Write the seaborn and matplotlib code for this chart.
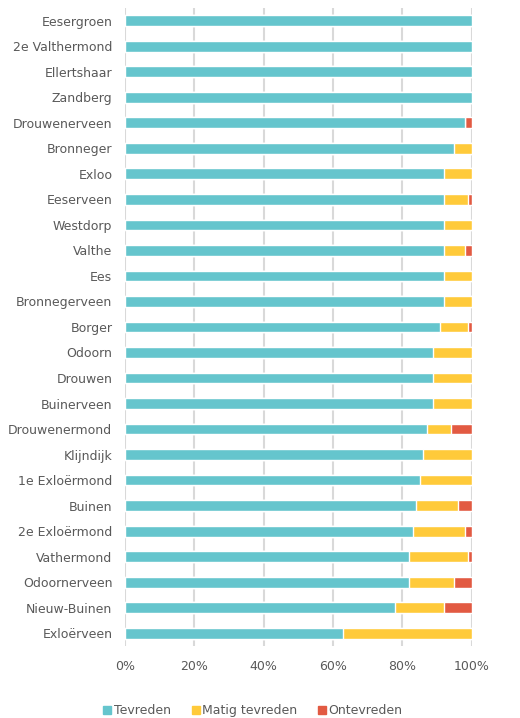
import numpy as np
import pandas as pd
import seaborn as sns
import matplotlib.pyplot as plt
from matplotlib.lines import Line2D
from matplotlib.ticker import FuncFormatter

# Data (percent per village)
villages = ['Eesergroen', '2e Valthermond', 'Ellertshaar', 'Zandberg', 'Drouwenerveen',
            'Bronneger', 'Exloo', 'Eeserveen', 'Westdorp', 'Valthe', 'Ees',
            'Bronnegerveen', 'Borger', 'Odoorn', 'Drouwen', 'Buinerveen',
            'Drouwenermond', 'Klijndijk', '1e Exloërmond', 'Buinen', '2e Exloërmond',
            'Vathermond', 'Odoornerveen', 'Nieuw-Buinen', 'Exloërveen']
tevreden = [100, 100, 100, 100, 98, 95, 92, 92, 92, 92, 92, 92, 91, 89, 89, 89,
            87, 86, 85, 84, 83, 82, 82, 78, 63]
matig = [0, 0, 0, 0, 0, 5, 8, 7, 8, 6, 8, 8, 8, 11, 11, 11,
         7, 14, 15, 12, 15, 17, 13, 14, 37]
ontevreden = [0, 0, 0, 0, 2, 0, 0, 1, 0, 2, 0, 0, 1, 0, 0, 0,
              6, 0, 0, 4, 2, 1, 5, 8, 0]

labels = ['Tevreden', 'Matig tevreden', 'Ontevreden']
colors = ['#65C5CD', '#FFCA3A', '#E25A42']

df = pd.DataFrame({'Dorp': villages, 'Tevreden': tevreden,
                   'Matig': matig, 'Ontevreden': ontevreden})
df['c1'] = df['Tevreden']
df['c2'] = df['Tevreden'] + df['Matig']
df['c3'] = df['c2'] + df['Ontevreden']

sns.set_style('white')
plt.rcParams['font.family'] = ['DejaVu Sans']

fig = plt.figure(figsize=(5.2, 7.18), dpi=100)
ax = fig.add_axes([0.24, 0.1003, 0.667, 0.8886])

# stacked bars drawn as overlapping cumulative layers
for col, c in zip(['c3', 'c2', 'c1'], colors[::-1]):
    sns.barplot(data=df, x=col, y='Dorp', orient='h', color=c,
                width=0.42, saturation=1, ax=ax, zorder=3)

ax.set_xlim(0, 100)
ax.set_ylim(len(villages) - 0.5, -0.5)
ax.set_xticks([0, 20, 40, 60, 80, 100])
ax.xaxis.set_major_formatter(FuncFormatter(lambda v, p: f'{v:.0f}%'))
ax.grid(axis='x', color='#D9D9D9', linewidth=1.5, zorder=0)
ax.set_axisbelow(True)
for s in ax.spines.values():
    s.set_visible(False)
ax.set_xlabel('')
ax.set_ylabel('')
ax.tick_params(axis='both', length=0, labelsize=9, labelcolor='#595959')
ax.tick_params(axis='x', pad=10)
ax.tick_params(axis='y', pad=9)

handles = [Line2D([], [], marker='s', linestyle='', color=c, markersize=6)
           for c in colors]
fig.legend(handles, labels, loc='center', bbox_to_anchor=(0.485, 0.01),
           ncol=3, frameon=False, fontsize=9, labelcolor='#595959',
           handletextpad=0.1, columnspacing=1.6, handlelength=0.8)

fig.savefig('out.png', dpi=100)
